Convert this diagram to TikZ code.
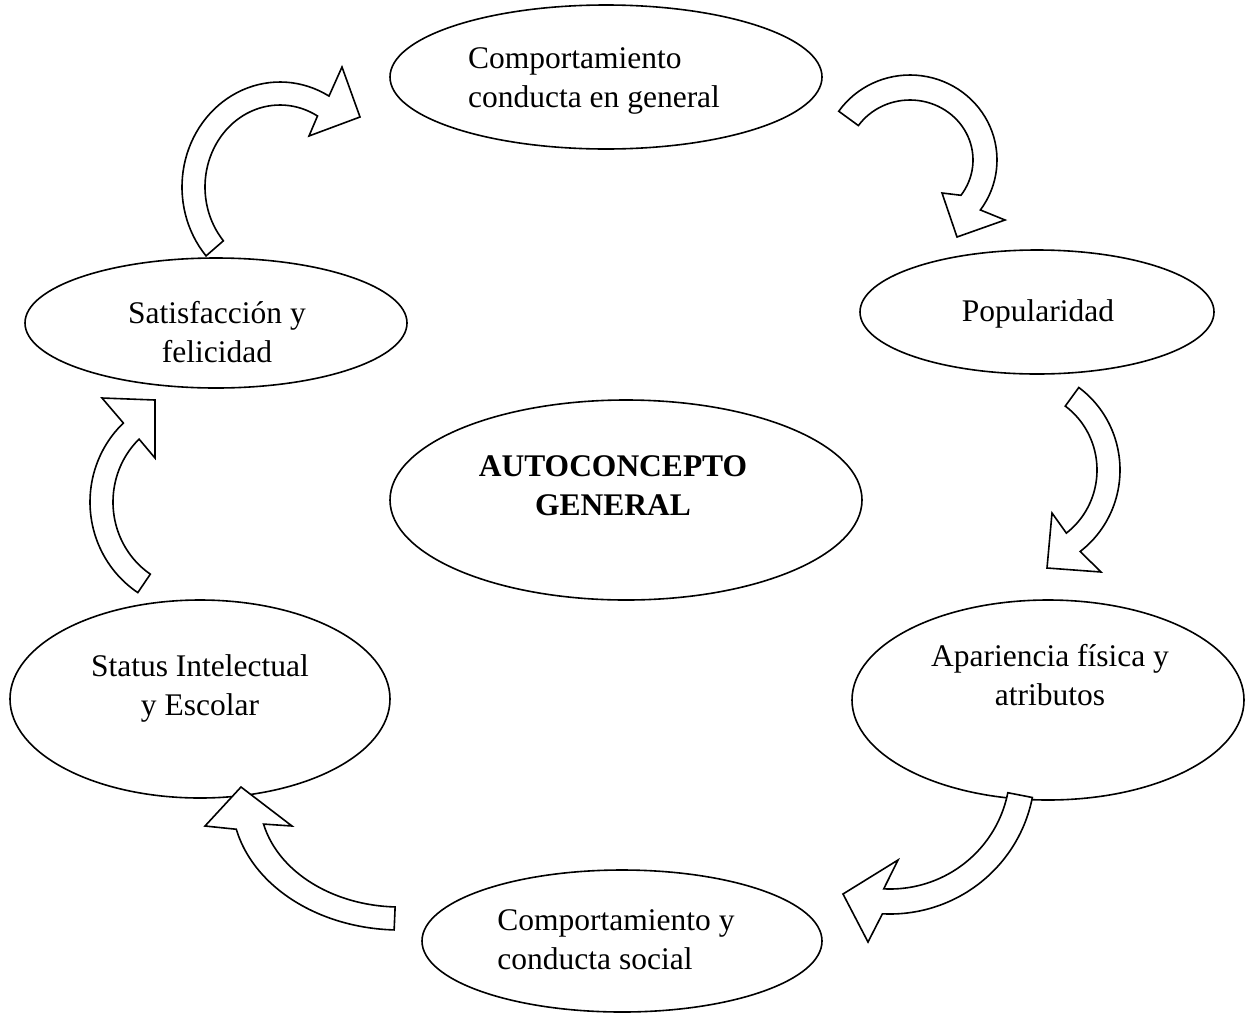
\documentclass[tikz,border=0pt]{standalone}
\usepackage{fontspec}
\setmainfont{Liberation Serif}
\usetikzlibrary{shapes.geometric}
\begin{document}
\begin{tikzpicture}[x=1pt,y=-1pt,
  ell/.style={draw, ellipse, line width=1.6pt, inner sep=0pt},
  lbl/.style={font=\fontsize{31.5}{39}\selectfont, inner sep=0pt},
  barrow/.style={draw, line width=1.6pt, fill=white, line join=miter}]
\useasboundingbox (0,0) rectangle (1249,1015);
% ellipses
\node[ell, minimum width=432pt, minimum height=144pt] (e1) at (606,77) {};
\node[ell, minimum width=354pt, minimum height=124pt] (e2) at (1037,312) {};
\node[ell, minimum width=382pt, minimum height=130pt] (e3) at (216,323) {};
\node[ell, minimum width=472pt, minimum height=200pt] (e4) at (626,500) {};
\node[ell, minimum width=380pt, minimum height=198pt] (e5) at (200,699) {};
\node[ell, minimum width=392pt, minimum height=200pt] (e6) at (1048,700) {};
\node[ell, minimum width=400pt, minimum height=142pt] (e7) at (622,941) {};
% texts
\node[lbl, align=left] (t1) at (594,81) {Comportamiento\\conducta en general};
\node[lbl] (t2) at (1038,314) {Popularidad};
\node[lbl, align=center] (t3) at (217,332) {Satisfacción y\\felicidad};
\node[lbl, align=center, font=\fontsize{31.5}{39}\selectfont\bfseries] (t4) at (613,486) {AUTOCONCEPTO\\GENERAL};
\node[lbl, align=center] (t5) at (200,688) {Status Intelectual\\y Escolar};
\node[lbl, align=center] (t6) at (1050,675) {Apariencia física y\\atributos};
\node[lbl, align=left] (t7) at (616,940) {Comportamiento y\\conducta social};
% curved block arrows
\draw[barrow] plot[domain=139:300, samples=50, variable=\t] ({280+98*cos(\t)},{187+105*sin(\t)})
  -- (342,67) -- (360,117) -- (309,136)
  -- plot[domain=300:139, samples=50, variable=\t] ({280+75*cos(\t)},{187+82*sin(\t)}) -- cycle;
\draw[barrow] plot[domain=215:396, samples=50, variable=\t] ({910+87*cos(\t)},{160+85*sin(\t)})
  -- (1005,220) -- (957,237) -- (942,193)
  -- plot[domain=396:215, samples=50, variable=\t] ({910+63*cos(\t)},{160+60*sin(\t)}) -- cycle;
\draw[barrow] plot[domain=-54:53, samples=50, variable=\t] ({1020+100*cos(\t)},{470+102*sin(\t)})
  -- (1101,572) -- (1047,568) -- (1052,513)
  -- plot[domain=53:-54, samples=50, variable=\t] ({1020+77*cos(\t)},{470+79*sin(\t)}) -- cycle;
\draw[barrow] plot[domain=11:93, samples=50, variable=\t] ({890+145*cos(\t)},{770+144*sin(\t)})
  -- (868,942) -- (843,894) -- (898,860)
  -- plot[domain=93:11, samples=50, variable=\t] ({890+120*cos(\t)},{770+119*sin(\t)}) -- cycle;
\draw[barrow] plot[domain=92:167, samples=50, variable=\t] ({400+168*cos(\t)},{800+130*sin(\t)})
  -- (205,826) -- (241,787) -- (292,826)
  -- plot[domain=167:92, samples=50, variable=\t] ({400+140*cos(\t)},{800+107*sin(\t)}) -- cycle;
\draw[barrow] plot[domain=123:227, samples=50, variable=\t] ({195+105*cos(\t)},{502+108*sin(\t)})
  -- (102,398) -- (155,400) -- (155,458)
  -- plot[domain=227:123, samples=50, variable=\t] ({195+82*cos(\t)},{502+86*sin(\t)}) -- cycle;
\end{tikzpicture}
\end{document}
